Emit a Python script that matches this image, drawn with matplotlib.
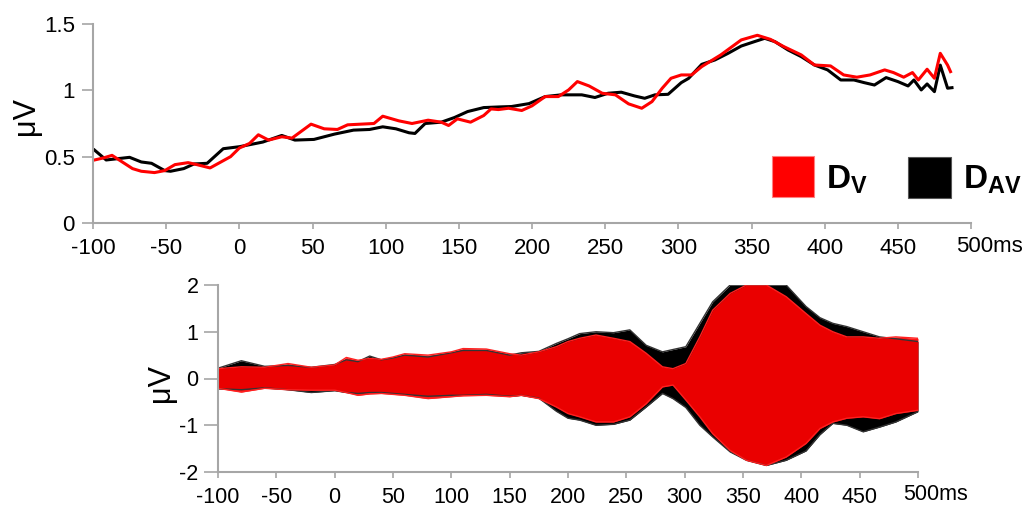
import matplotlib
matplotlib.use("Agg")
import matplotlib.pyplot as plt
from matplotlib.patches import Rectangle

plt.rcParams['font.family'] = ['Liberation Sans', 'DejaVu Sans']
plt.rcParams['mathtext.fontset'] = 'custom'
plt.rcParams['mathtext.rm'] = 'Liberation Sans'
plt.rcParams['mathtext.bf'] = 'Liberation Sans:bold'

# --- top panel: grand-average difference waves (ms, uV) ---
dv_t = [-99, -93, -87, -80, -73, -67, -58, -51, -44, -35, -29, -20, -6, 0, 7, 13, 20, 29, 36,
        49, 58, 67, 74, 83, 92, 98, 109, 118, 129, 138, 143, 149, 158, 167, 172, 177,
        184, 193, 200, 209, 218, 225, 231, 239, 248, 257, 266, 275, 282, 289, 295, 302,
        309, 316, 329, 343, 354, 363, 372, 384, 393, 404, 413, 422, 431, 441, 447, 454,
        460, 464, 470, 475, 479, 484, 486]
dv_v = [0.475, 0.49, 0.51, 0.46, 0.41, 0.39, 0.38, 0.395, 0.44, 0.455, 0.44, 0.415, 0.50,
        0.565, 0.60, 0.665, 0.625, 0.65, 0.64, 0.745, 0.71, 0.705, 0.74, 0.745, 0.75,
        0.805, 0.77, 0.75, 0.775, 0.76, 0.735, 0.785, 0.76, 0.81, 0.86, 0.855, 0.865,
        0.848, 0.883, 0.953, 0.953, 1.003, 1.066, 1.033, 0.978, 0.966, 0.898, 0.865,
        0.915, 1.016, 1.091, 1.116, 1.116, 1.179, 1.267, 1.38, 1.415, 1.384, 1.33,
        1.267, 1.191, 1.184, 1.116, 1.099, 1.116, 1.154, 1.134, 1.099, 1.134, 1.078,
        1.159, 1.091, 1.279, 1.19, 1.141]

dav_t = [-99, -91, -75, -67, -60, -51, -47, -38, -31, -22, -11, 0, 16, 29, 38, 51, 65, 78,
         89, 98, 107, 116, 120, 127, 138, 147, 156, 167, 178, 186, 198, 209, 220, 234,
         243, 252, 261, 270, 277, 284, 293, 302, 307, 316, 325, 334, 343, 352, 359, 366,
         375, 384, 393, 402, 411, 420, 427, 434, 442, 450, 457, 461, 466, 470, 475, 479,
         484, 487]
dav_v = [0.55, 0.475, 0.495, 0.46, 0.45, 0.395, 0.39, 0.41, 0.445, 0.45, 0.56, 0.575, 0.61,
         0.66, 0.625, 0.63, 0.67, 0.70, 0.705, 0.725, 0.71, 0.68, 0.675, 0.75, 0.76,
         0.795, 0.84, 0.87, 0.875, 0.878, 0.90, 0.953, 0.966, 0.966, 0.946, 0.978, 0.986,
         0.958, 0.94, 0.966, 0.97, 1.058, 1.09, 1.196, 1.229, 1.279, 1.334, 1.367, 1.392,
         1.367, 1.304, 1.254, 1.191, 1.154, 1.078, 1.078, 1.058, 1.04, 1.096, 1.066,
         1.033, 1.078, 1.003, 1.048, 0.99, 1.19, 1.016, 1.02]

# --- bottom panel: butterfly envelopes (ms, uV) ---
env_t = [-100, -80, -60, -40, -20, 0, 10, 20, 30, 40, 50, 60, 80, 100, 110, 130, 150, 160,
         175, 190, 200, 210, 224, 239, 253, 267, 281, 290, 301, 313, 324, 339, 353, 370,
         387, 404, 416, 427, 439, 453, 467, 481, 500]
dv_up = [0.21, 0.25, 0.24, 0.32, 0.24, 0.29, 0.45, 0.39, 0.43, 0.41, 0.46, 0.53, 0.50,
         0.57, 0.64, 0.63, 0.53, 0.50, 0.57, 0.68, 0.79, 0.86, 0.93, 0.86, 0.79, 0.54,
         0.25, 0.21, 0.32, 0.89, 1.46, 1.82, 2.0, 2.0, 1.75, 1.39, 1.14, 1.0, 0.89, 0.89,
         0.86, 0.89, 0.86]
dv_lo = [-0.21, -0.29, -0.21, -0.24, -0.25, -0.25, -0.30, -0.36, -0.33, -0.32, -0.34,
         -0.36, -0.43, -0.39, -0.37, -0.36, -0.39, -0.36, -0.43, -0.61, -0.75, -0.82,
         -0.93, -0.93, -0.82, -0.54, -0.18, -0.14, -0.46, -0.82, -1.18, -1.54, -1.75,
         -1.86, -1.68, -1.39, -1.07, -0.93, -0.85, -0.82, -0.86, -0.75, -0.68]
dav_up = [0.22, 0.38, 0.26, 0.28, 0.24, 0.30, 0.40, 0.36, 0.48, 0.40, 0.44, 0.50, 0.46,
          0.55, 0.60, 0.60, 0.50, 0.55, 0.58, 0.75, 0.85, 0.96, 1.0, 0.98, 1.04, 0.71,
          0.57, 0.62, 0.68, 1.18, 1.64, 2.0, 2.0, 2.0, 2.0, 1.54, 1.30, 1.18, 1.11, 1.0,
          0.89, 0.85, 0.79]
dav_lo = [-0.22, -0.24, -0.20, -0.24, -0.30, -0.26, -0.30, -0.32, -0.30, -0.30, -0.32,
          -0.34, -0.38, -0.36, -0.36, -0.34, -0.38, -0.36, -0.42, -0.70, -0.85, -0.89,
          -1.0, -0.98, -0.89, -0.61, -0.32, -0.43, -0.62, -1.0, -1.25, -1.57, -1.75,
          -1.86, -1.75, -1.55, -1.20, -0.96, -1.0, -1.14, -1.04, -0.93, -0.71]

xticks = [-100, -50, 0, 50, 100, 150, 200, 250, 300, 350, 400, 450, 500]
xlabels = [str(t) for t in xticks[:-1]] + ['']   # "500ms" drawn separately
W, H = 1026, 507
grey = '#a6a6a6'


def px(x, y):
    # figure fraction from reference pixel position
    return x / W, 1 - y / H


def style_axis(ax, fs, ylen):
    for side in ['top', 'right']:
        ax.spines[side].set_visible(False)
    for side in ['left', 'bottom']:
        ax.spines[side].set_color(grey)
        ax.spines[side].set_linewidth(1.5)
    ax.tick_params(colors=grey, labelcolor='black', labelsize=fs, width=1.2)
    ax.tick_params(axis='x', length=4, pad=7)
    ax.tick_params(axis='y', length=ylen, pad=5)
    ax.set_xticks(xticks)
    ax.set_xticklabels(xlabels)
    ax.set_xlim(-100, 500)


fig = plt.figure(figsize=(W / 100, H / 100), dpi=100)

# top panel
ax1 = fig.add_axes([93 / W, 1 - 223 / H, 878 / W, 199 / H])
ax1.plot(dav_t, dav_v, color='black', lw=2.2)
ax1.plot(dv_t, dv_v, color='red', lw=2.2)
ax1.set_ylim(0, 1.5)
ax1.set_yticks([0, 0.5, 1, 1.5])
ax1.set_yticklabels(['0', '0.5', '1', '1.5'])
style_axis(ax1, 16, 8)
fig.text(*px(26, 116), 'μV', rotation=90, fontsize=22, ha='center', va='center')
fig.text(*px(956, 246), '500ms', fontsize=16, ha='left', va='center')

# legend squares
fig.add_artist(Rectangle(px(772, 197), 42 / W, 41 / H, transform=fig.transFigure,
                         facecolor='red', edgecolor='#ff8080', lw=0.8))
fig.text(*px(826, 180), r'$\mathbf{D_{V}}$', fontsize=24, ha='left', va='center')
fig.add_artist(Rectangle(px(908, 198), 43 / W, 41 / H, transform=fig.transFigure,
                         facecolor='black', edgecolor='#555555', lw=0.8))
fig.text(*px(963, 180), r'$\mathbf{D_{AV}}$', fontsize=24, ha='left', va='center')

# bottom panel: butterfly plot envelopes
ax2 = fig.add_axes([218 / W, 1 - 472 / H, 700 / W, 187 / H])
ax2.fill_between(env_t, dav_lo, dav_up, color='black', lw=0)
ax2.plot(env_t, dav_up, color='#333333', lw=1)
ax2.plot(env_t, dav_lo, color='#333333', lw=1)
ax2.fill_between(env_t, dv_lo, dv_up, color='red', alpha=0.92, lw=0)
ax2.plot(env_t, dv_up, color='#ff2020', lw=1)
ax2.plot(env_t, dv_lo, color='#ff2020', lw=1)
ax2.set_ylim(-2, 2)
ax2.set_yticks([-2, -1, 0, 1, 2])
ax2.set_yticklabels(['-2', '-1', '0', '1', '2'])
style_axis(ax2, 15.5, 10)
ax2.tick_params(axis='y', pad=4)
fig.text(*px(161, 383), 'μV', rotation=90, fontsize=22, ha='center', va='center')
fig.text(*px(903, 494), '500ms', fontsize=15.5, ha='left', va='center')

fig.savefig('out.png', dpi=100)
